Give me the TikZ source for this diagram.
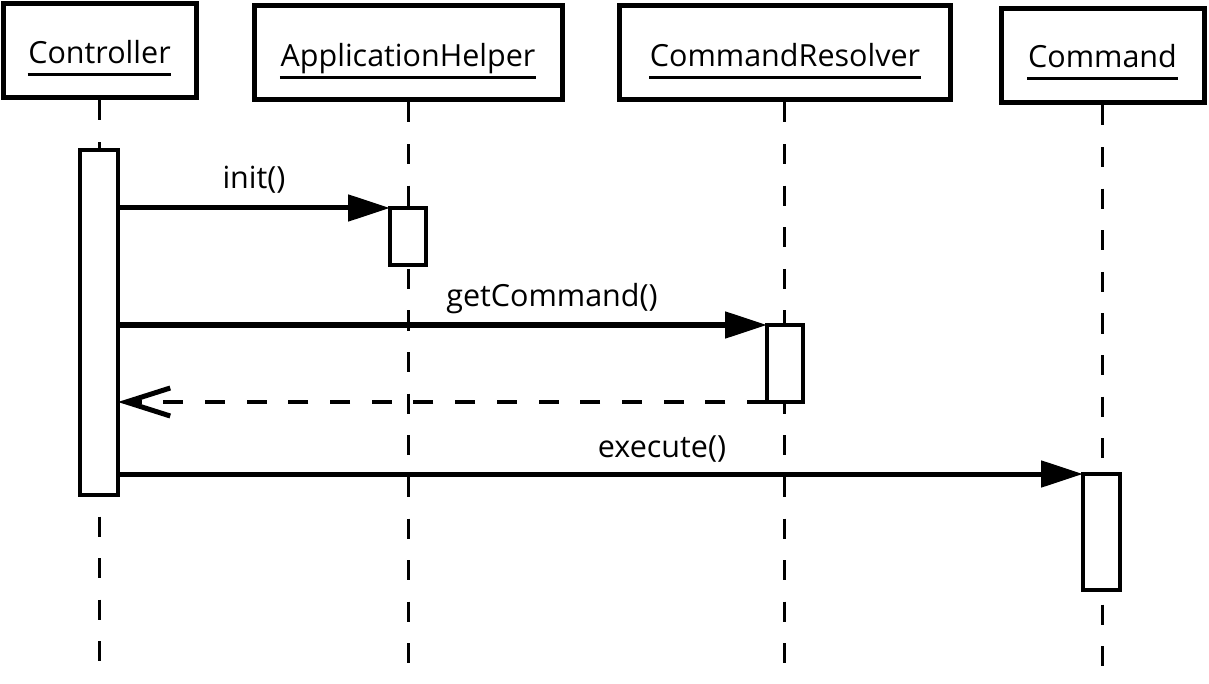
\documentclass[tikz,border=0pt]{standalone}
\usepackage{fontspec}
\setmainfont{Open Sans}
\usetikzlibrary{arrows.meta,calc}
\begin{document}
\begin{tikzpicture}[x=1pt,y=-1pt,
  objbox/.style={draw,line width=5pt,fill=white,minimum height=94pt,inner sep=0pt},
  objtext/.style={font=\fontsize{30.5}{36}\selectfont,inner sep=0pt,anchor=base},
  uline/.style={line width=2.7pt},
  life/.style={line width=3pt,dash pattern=on 20pt off 21.6pt},
  act/.style={draw,line width=4.5pt,fill=white,inner sep=0pt,outer sep=0pt},
  msg/.style={line width=5pt,-{Triangle[length=42pt,width=26pt]}},
  ret/.style={line width=3.8pt,dash pattern=on 20pt off 21.7pt,-{Straight Barb[length=44pt,width=28pt,line width=5pt]}},
  lbl/.style={font=\fontsize{30.5}{36}\selectfont,inner sep=0pt,anchor=base}]
\useasboundingbox (0,0) rectangle (1209,684);
% end points of lifelines
\coordinate (ctrlend) at (99.5,663);
\coordinate (ahend) at (408,665);
\coordinate (crend) at (784.5,665);
\coordinate (cmdend) at (1102.5,668);
% object boxes
\node[objbox,minimum width=193pt] (ctrl) at (99.5,51) {};
\node[objbox,minimum width=308pt] (ah) at (408,53) {};
\node[objbox,minimum width=331pt] (cr) at (784.5,53) {};
\node[objbox,minimum width=203pt] (cmd) at (1102.5,56) {};
% lifelines
\draw[life] (ctrl.south) -- (ctrlend);
\draw[life] (ah.south) -- (ahend);
\draw[life] (cr.south) -- (crend);
\draw[life] (cmd.south) -- (cmdend);
% object names
\node[objtext] (ctxt) at (99.5,64) {Controller};
\node[objtext] (ahtxt) at (408,67) {ApplicationHelper};
\node[objtext] (crtxt) at (785,67) {CommandResolver};
\node[objtext] (cmdtxt) at (1102.5,68) {Command};
\foreach \t in {ctxt,ahtxt,crtxt,cmdtxt}
  \draw[uline] ($(\t.base west)+(-0.5,10.5)$) -- ($(\t.base east)+(0.5,10.5)$);
% activations
\node[act,minimum width=38pt,minimum height=345pt] (ca) at (99,322.5) {};
\node[act,minimum width=36pt,minimum height=57pt] (aha) at (408,236.5) {};
\node[act,minimum width=36pt,minimum height=77pt] (cra) at (785,363.5) {};
\node[act,minimum width=37pt,minimum height=116pt] (cmda) at (1101.5,532) {};
% messages
\draw[msg] (ca.east |- aha.north west) -- (aha.north west);
\draw[msg] (ca.east |- cra.north west) -- (cra.north west);
\draw[ret] (cra.south west) -- (ca.east |- cra.south west);
\draw[msg] (ca.east |- cmda.north west) -- (cmda.north west);
% labels
\node[lbl] (linit) at (254,189) {init()};
\node[lbl] (lget) at (552,306) {getCommand()};
\node[lbl] (lexec) at (662,457) {execute()};
\end{tikzpicture}
\end{document}
